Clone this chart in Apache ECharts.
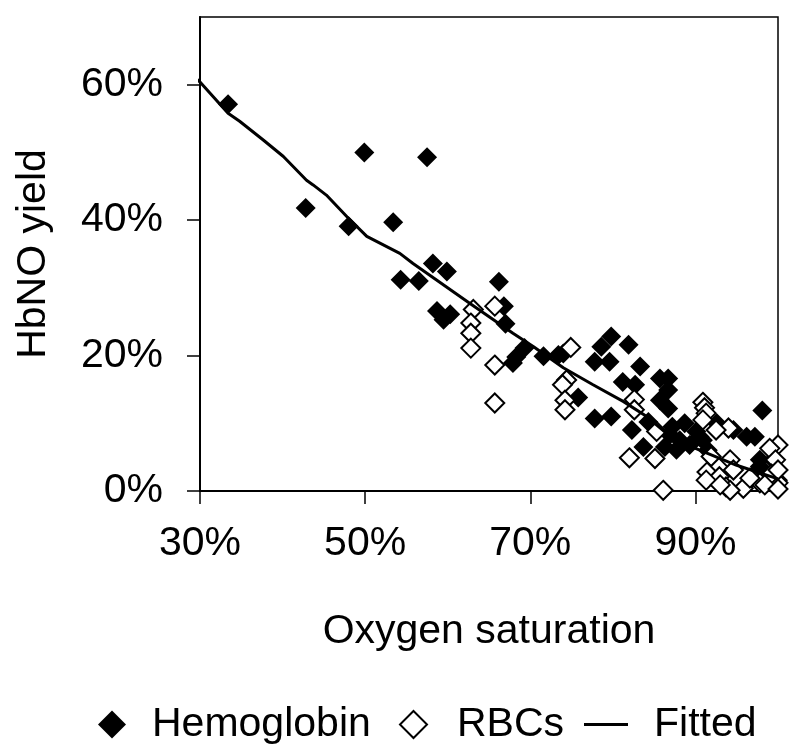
<!DOCTYPE html>
<html>
<head>
<meta charset="utf-8">
<script src="https://cdn.jsdelivr.net/npm/echarts@6/dist/echarts.min.js"></script>
<style>
html,body{margin:0;padding:0;background:#fff;}
#chart{width:800px;height:751px;}
</style>
</head>
<body>
<div id="chart"></div>
<script>
// Tick values (percent)
var xTicks = [30, 50, 70, 90];
var yTicks = [0, 20, 40, 60];

// Hemoglobin: [oxygen saturation %, HbNO yield %]
var hemoglobin = [
  [33.4,57.1],[42.8,41.8],[48.0,39.1],[49.9,50.0],[53.4,39.7],[57.5,49.3],
  [54.3,31.2],[56.5,31.0],[58.2,33.6],[59.9,32.4],[58.7,26.6],[60.3,26.1],
  [59.5,25.3],[66.2,30.9],[66.8,27.3],[67.0,24.7],[67.9,18.9],[68.3,19.8],
  [69.3,21.1],[71.6,19.9],[73.4,20.1],[74.0,20.3],[75.8,13.8],[77.8,19.1],
  [78.6,21.3],[79.6,19.1],[79.8,22.8],[81.9,21.6],[83.3,18.4],[81.2,16.1],
  [82.7,15.7],[85.7,16.6],[86.7,16.6],[86.7,14.9],[85.7,13.4],[86.7,12.2],
  [77.8,10.7],[79.8,11.0],[82.3,9.0],[84.3,10.2],[83.7,6.5],[86.9,8.3],
  [86.3,6.5],[87.7,6.1],[88.7,10.0],[88.1,7.5],[90.1,8.8],[90.9,7.5],
  [92.6,10.0],[94.6,9.0],[96.2,8.0],[97.2,8.0],[98.1,11.9],[97.8,3.6],
  [99.4,4.6],[99.4,2.6],[100,1.6],[97.8,4.6],[90.5,8.0],[91.5,6.0],
  [87.2,9.5],[89.3,6.8]
];

// RBCs: [oxygen saturation %, HbNO yield %]
var rbcs = [
  [63.1,26.8],[65.7,27.3],[62.8,24.8],[62.8,23.3],[62.8,21.1],[65.7,18.6],
  [65.7,13.0],[74.9,21.2],[74.4,16.4],[73.9,15.7],[74.2,13.4],[74.2,12.0],
  [82.6,13.5],[82.6,12.0],[85.3,8.8],[82.0,4.9],[85.1,4.8],[86.1,0.1],
  [90.9,13.1],[91.1,12.3],[91.3,11.5],[90.9,10.5],[94.0,9.3],[100,6.8],
  [99.0,6.3],[99.7,4.6],[91.9,5.1],[94.2,4.6],[91.4,2.8],[92.9,2.1],
  [94.6,3.1],[96.8,2.0],[93.7,0.6],[95.8,0.4],[97.8,1.2],[100,1.2],
  [99.2,2.5],[100,3.1],[98.4,0.9],[91.3,1.6],[94.2,0.1],[93.0,0.9],
  [100,0.3],[96.6,1.9],[92.5,9.0]
];

// Fitted curve points
var fitted = [
  [28.8,61.7],[30.0,60.4],[33.4,55.8],[34.8,54.6],[37.7,51.8],[40.1,49.4],
  [42.9,45.9],[43.7,45.2],[45.3,43.7],[47.8,40.5],[50.2,37.6],[54.2,35.1],
  [55.8,33.6],[62.7,27.7],[67.9,23.3],[70.4,21.3],[74.0,18.2],[77.6,15.7],
  [81.3,13.2],[84.1,11.0],[86.5,8.5],[90.0,6.3],[95.0,3.8],[100,1.8]
];

var FONT = 'Liberation Sans, Arial, sans-serif';
var FS = 41;
var chart = echarts.init(document.getElementById('chart'), null, {renderer:'canvas'});
chart.setOption({
  backgroundColor: '#fff',
  animation: false,
  grid: {left: 200, right: 22, top: 17, bottom: 260, show: true, borderColor: '#000', borderWidth: 1.5},
  xAxis: {
    type: 'value', min: 30, max: 100,
    name: 'Oxygen saturation', nameLocation: 'middle', nameGap: 120,
    nameTextStyle: {fontFamily: FONT, fontSize: FS, color: '#000'},
    axisLine: {show: true, lineStyle: {color: '#000', width: 2}},
    axisTick: {show: true, length: 13, inside: false, customValues: xTicks, lineStyle: {color: '#000', width: 1.5}},
    axisLabel: {customValues: xTicks, formatter: '{value}%', margin: 32, fontFamily: FONT, fontSize: FS, color: '#000'},
    splitLine: {show: false}
  },
  yAxis: {
    type: 'value', min: 0, max: 70,
    name: 'HbNO yield', nameLocation: 'middle', nameGap: 146, nameRotate: 90,
    nameTextStyle: {fontFamily: FONT, fontSize: FS, color: '#000'},
    axisLine: {show: true, lineStyle: {color: '#000', width: 2}},
    axisTick: {show: true, length: 13, inside: false, customValues: yTicks, lineStyle: {color: '#000', width: 1.5}},
    axisLabel: {customValues: yTicks, formatter: '{value}%', margin: 37, fontFamily: FONT, fontSize: FS, color: '#000'},
    splitLine: {show: false}
  },
  legend: [
    {data: [{name: 'Hemoglobin', icon: 'diamond'}], left: 98, top: 704, padding: 0,
     itemWidth: 28, itemHeight: 28, textStyle: {fontFamily: FONT, fontSize: FS, color: '#000', padding: [0,0,0,21]}},
    {data: [{name: 'RBCs', icon: 'diamond'}], left: 399, top: 704, padding: 0,
     itemWidth: 27, itemHeight: 27, textStyle: {fontFamily: FONT, fontSize: FS, color: '#000', padding: [0,0,0,25]}},
    {data: [{name: 'Fitted', icon: 'rect'}], left: 584, top: 704, padding: 0,
     itemWidth: 44, itemHeight: 3, textStyle: {fontFamily: FONT, fontSize: FS, color: '#000', padding: [0,0,0,21]}}
  ],
  series: [
    {name: 'Hemoglobin', type: 'scatter', data: hemoglobin, symbol: 'diamond', symbolSize: 20, clip: false,
     itemStyle: {color: '#000', borderColor: '#000', borderWidth: 0, opacity: 1}, z: 2},
    {name: 'RBCs', type: 'scatter', data: rbcs, symbol: 'diamond', symbolSize: 19, clip: false,
     itemStyle: {color: '#fff', borderColor: '#000', borderWidth: 2, opacity: 1}, z: 3},
    {name: 'Fitted', type: 'line', data: fitted, symbol: 'none', showSymbol: false, clip: false, smooth: false,
     lineStyle: {color: '#000', width: 3}, itemStyle: {color: '#000'}, z: 4}
  ]
});
</script>
</body>
</html>
